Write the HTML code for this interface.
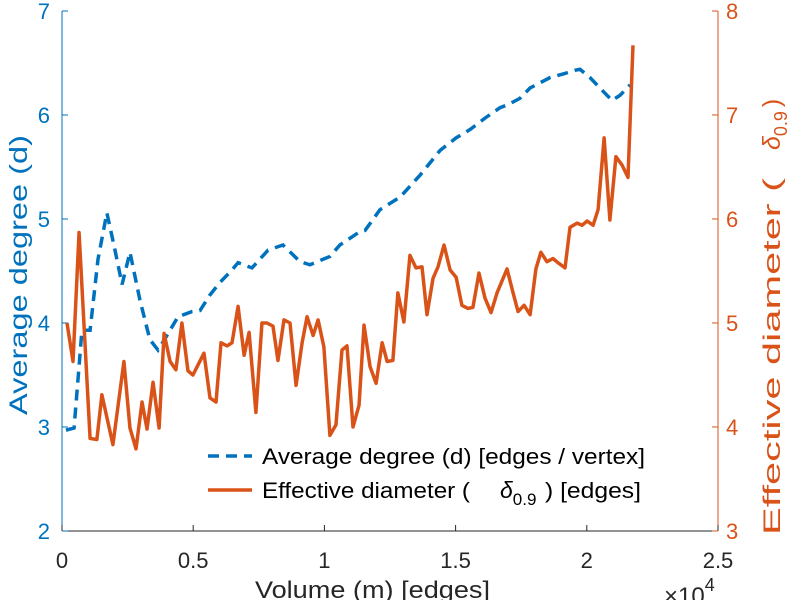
<!DOCTYPE html>
<html><head><meta charset="utf-8"><style>
body{margin:0;background:#fff}
svg{display:block;font-family:"Liberation Sans",sans-serif}
</style></head><body>
<svg id="c" width="795" height="600"></svg>
<script>
const blueX=[.015,.046,.076,.107,.137,.171,.202,.229,.259,.297,.335,.366,.400,.442,.495,.526,.564,.602,.648,.671,.724,.785,.842,.907,.945,1.021,1.059,1.136,1.155,1.212,1.269,1.288,1.364,1.441,1.502,1.555,1.612,1.669,1.700,1.745,1.784,1.822,1.860,1.917,1.955,1.974,2.012,2.050,2.096,2.127,2.165];
const blueY=[2.97,2.99,3.93,3.93,4.61,5.06,4.70,4.37,4.68,4.22,3.84,3.74,3.88,4.06,4.11,4.12,4.27,4.39,4.51,4.58,4.53,4.70,4.75,4.59,4.56,4.64,4.75,4.88,4.89,5.09,5.18,5.21,5.42,5.66,5.78,5.86,5.97,6.07,6.10,6.16,6.26,6.31,6.36,6.40,6.43,6.44,6.36,6.26,6.14,6.19,6.29];
const orX=[.019,.042,.065,.107,.133,.152,.194,.236,.259,.282,.305,.324,.347,.370,.389,.412,.434,.457,.480,.499,.541,.564,.587,.606,.629,.648,.671,.694,.713,.739,.762,.781,.804,.823,.846,.869,.892,.915,.934,.957,.976,.998,1.021,1.044,1.067,1.086,1.109,1.132,1.151,1.174,1.197,1.220,1.239,1.261,1.280,1.303,1.326,1.349,1.372,1.391,1.414,1.433,1.456,1.479,1.502,1.524,1.547,1.566,1.589,1.612,1.635,1.658,1.696,1.719,1.738,1.761,1.784,1.806,1.825,1.848,1.871,1.890,1.917,1.936,1.963,1.982,2.001,2.024,2.043,2.066,2.088,2.111,2.134,2.157,2.176];
const orY=[5.00,4.63,5.87,3.89,3.88,4.31,3.83,4.63,3.99,3.79,4.24,3.98,4.43,3.99,4.90,4.63,4.55,5.00,4.54,4.50,4.71,4.28,4.24,4.81,4.78,4.81,5.16,4.69,4.91,4.14,5.00,5.00,4.97,4.64,5.03,5.00,4.40,4.81,5.06,4.88,5.03,4.77,3.92,4.02,4.74,4.78,4.00,4.21,4.98,4.58,4.42,4.81,4.63,4.64,5.29,5.01,5.65,5.53,5.54,5.08,5.43,5.54,5.75,5.51,5.44,5.17,5.14,5.15,5.48,5.24,5.10,5.29,5.52,5.29,5.11,5.17,5.08,5.52,5.68,5.59,5.62,5.58,5.53,5.92,5.96,5.94,5.98,5.94,6.09,6.78,5.99,6.60,6.52,6.40,7.67];
const xTicks=["0","0.5","1","1.5","2","2.5"];
const leftTicks=["2","3","4","5","6","7"];
const rightTicks=["3","4","5","6","7","8"];

const L=62,R=718,T=11,B=531,BL="#0072BD",OR="#D95319";
const sx=v=>L+v/2.5*(R-L);
const sl=v=>B-(v-2)/5*(B-T);
const sr=v=>B-(v-3)/5*(B-T);
const svg=document.getElementById('c');
const NS="http://www.w3.org/2000/svg";
function mk(tag,a,txt){const e=document.createElementNS(NS,tag);for(const k in a)e.setAttribute(k,a[k]);if(txt!==undefined)e.textContent=txt;svg.appendChild(e);return e;}

let e;
e=mk('line',{x1:L,y1:B,x2:R,y2:B,stroke:'#262626','stroke-width':1});


e=mk('line',{x1:L,y1:T,x2:L,y2:B,stroke:BL,'stroke-width':1});


e=mk('line',{x1:R,y1:T,x2:R,y2:B,stroke:OR,'stroke-width':1});



xTicks.forEach(t=>{const x=sx(parseFloat(t));
 mk('line',{x1:x,y1:B,x2:x,y2:B-6,stroke:'#262626'});
 e=mk('text',{x:x,y:568,'text-anchor':'middle','font-size':22,fill:'#262626'},t);
 
 
});
leftTicks.forEach(t=>{const y=sl(parseFloat(t));
 mk('line',{x1:L,y1:y,x2:L+6,y2:y,stroke:BL});
 e=mk('text',{x:50,y:y+8,'text-anchor':'end','font-size':22,fill:BL},t);
 
 
});
rightTicks.forEach(t=>{const y=sr(parseFloat(t));
 mk('line',{x1:R,y1:y,x2:R-6,y2:y,stroke:OR});
 e=mk('text',{x:726,y:y+8,'text-anchor':'start','font-size':22,fill:OR},t);
 
 
});

e=mk('polyline',{points:blueX.map((v,i)=>sx(v)+','+sl(blueY[i])).join(' '),fill:'none',stroke:BL,'stroke-width':3.5,'stroke-dasharray':'11,7'});


e=mk('polyline',{points:orX.map((v,i)=>sx(v)+','+sr(orY[i])).join(' '),fill:'none',stroke:OR,'stroke-width':3.5,'stroke-linejoin':'round'});



e=mk('line',{x1:208,y1:456,x2:252,y2:456,stroke:BL,'stroke-width':3.5,'stroke-dasharray':'11,7'});


e=mk('text',{x:262,y:464,'font-size':22,fill:'#000',textLength:383,lengthAdjust:'spacingAndGlyphs'},'Average degree (d) [edges / vertex]');


e=mk('line',{x1:208,y1:490,x2:252,y2:490,stroke:OR,'stroke-width':3.5});


e=mk('text',{x:262,y:498,'font-size':22,fill:'#000',textLength:208,lengthAdjust:'spacingAndGlyphs'},'Effective diameter (');


e=mk('text',{x:500,y:498,'font-size':23,fill:'#000'});
e.innerHTML='<tspan font-style="italic">δ</tspan><tspan font-size="17" dy="7">0.9</tspan>';


e=mk('text',{x:545,y:498,'font-size':22,fill:'#000',textLength:96,lengthAdjust:'spacingAndGlyphs'},') [edges]');



e=mk('text',{x:255,y:598,'font-size':24,fill:'#262626',textLength:235,lengthAdjust:'spacingAndGlyphs'},'Volume (m) [edges]');


e=mk('text',{x:664,y:604,'font-size':24,fill:'#262626'});
e.innerHTML='×10<tspan font-size="18" dy="-13">4</tspan>';


e=mk('text',{x:-415,y:0,'font-size':25,fill:BL,transform:'translate(27,0) rotate(-90)',textLength:280,lengthAdjust:'spacingAndGlyphs'},'Average degree (d)');


e=mk('text',{x:-535,y:0,'font-size':24,fill:OR,transform:'translate(780,0) rotate(-90)',textLength:357,lengthAdjust:'spacingAndGlyphs'},'Effective diameter (');


e=mk('text',{x:-150,y:0,'font-size':25,fill:OR,transform:'translate(780,0) rotate(-90)'});
e.innerHTML='<tspan font-style="italic">δ</tspan><tspan font-size="18" dy="7">0.9</tspan><tspan dy="-7" dx="4">)</tspan>';


</script>
</body></html>
